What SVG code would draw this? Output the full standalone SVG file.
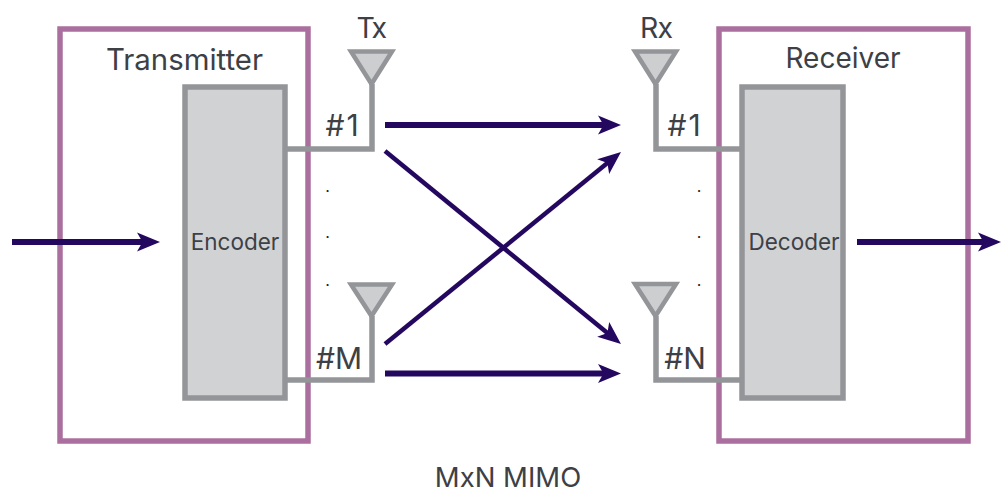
<svg xmlns="http://www.w3.org/2000/svg" width="1001" height="489" viewBox="0 0 1001 489">
<style>
text{font-family:"Inter","Liberation Sans",sans-serif;fill:#3d4045}
.t{font-size:26px}
.s{font-size:22.5px}
.f{fill:none;stroke:#ab6f9f;stroke-width:5.5}
.b{fill:#d1d2d4;stroke:#939598;stroke-width:5.5}
.w{fill:none;stroke:#939598;stroke-width:5.5}
.a{fill:#cdced0;stroke:#939598;stroke-width:4.5}
.c{fill:none;stroke:#24085f;stroke-width:6;marker-end:url(#m)}
.x{fill:none;stroke:#24085f;stroke-width:4.5;marker-end:url(#m)}
.d{font-size:16px;fill:#222}
</style>
<defs><marker id="m" markerUnits="userSpaceOnUse" markerWidth="26" markerHeight="24" refX="12" refY="12" orient="auto"><path d="M1 2.500L24 12L1 21.500L6.500 12Z" fill="#24085f"/></marker></defs>
<rect width="1001" height="489" fill="#fff"/>
<g id="transmitter"><rect class="f" x="60" y="29" width="248" height="412"/><text class="t" style="font-size:29.4px" x="184.500" y="70" text-anchor="middle">Transmitter</text></g>
<g id="receiver"><rect class="f" x="719" y="29" width="249" height="412"/><text class="t" style="font-size:28px" x="843" y="68" text-anchor="middle">Receiver</text></g>
<g id="encoder"><rect class="b" x="185" y="87" width="100" height="311"/><text class="s" x="235" y="250" text-anchor="middle">Encoder</text></g>
<g id="decoder"><rect class="b" x="742" y="87" width="101" height="311"/><text class="s" x="794" y="250" text-anchor="middle">Decoder</text></g>
<g id="tx1"><path class="w" d="M285 149H372V84"/><path class="a" d="M351 51.500H392L371.500 84Z"/><text class="t" style="font-size:28.500px;letter-spacing:-1.500px" x="371" y="37.500" text-anchor="middle">Tx</text><text class="t" style="font-size:30px;letter-spacing:2px" x="343" y="136" text-anchor="middle">#1</text></g>
<g id="txm"><path class="w" d="M285 380H372V316"/><path class="a" d="M351 284.500H392L371.500 316Z"/><text class="t" style="font-size:30px" x="339" y="369" text-anchor="middle">#M</text></g>
<g id="rx1"><path class="w" d="M742 149H656V84"/><path class="a" d="M635 51.500H676L655.500 84Z"/><text class="t" style="font-size:28.500px;letter-spacing:-1px" x="656" y="37.500" text-anchor="middle">Rx</text><text class="t" style="font-size:30px;letter-spacing:2px" x="685" y="136" text-anchor="middle">#1</text></g>
<g id="rxn"><path class="w" d="M742 380H656V316"/><path class="a" d="M635 284H676L655.500 316Z"/><text class="t" style="font-size:30px" x="685" y="369" text-anchor="middle">#N</text></g>
<g id="connectors">
<path class="c" d="M12 242H148"/><path class="c" d="M857 242H989"/>
<path class="c" d="M385 125H609"/><path class="c" d="M385 373.500H609"/>
<path class="x" d="M385 151L611.700 336.400"/><path class="x" d="M385 344L611.700 159.600"/>
</g>
<g id="dots"><text class="d" x="327.500" y="192" text-anchor="middle">.</text><text class="d" x="327.500" y="238" text-anchor="middle">.</text><text class="d" x="327.500" y="286" text-anchor="middle">.</text><text class="d" x="699" y="192" text-anchor="middle">.</text><text class="d" x="699" y="238" text-anchor="middle">.</text><text class="d" x="699" y="286" text-anchor="middle">.</text></g>
<text class="t" style="font-size:27.500px" x="508" y="487" text-anchor="middle">MxN MIMO</text>
</svg>
